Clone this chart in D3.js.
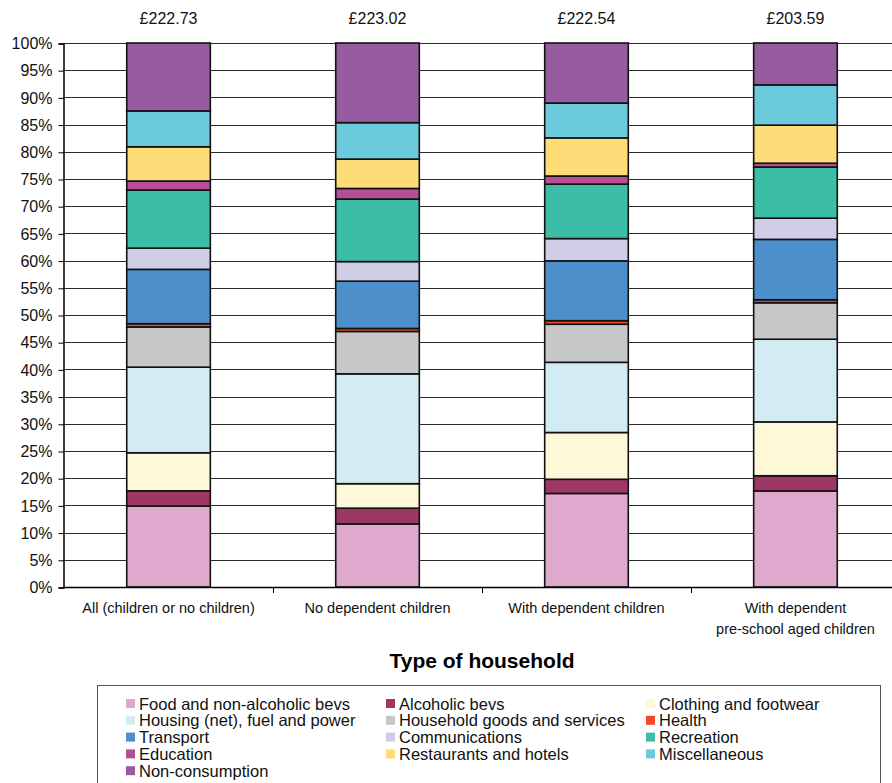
<!DOCTYPE html>
<html><head><meta charset="utf-8">
<script src="https://cdn.jsdelivr.net/npm/d3@7"></script>
<style>body{margin:0;background:#fff;}svg{display:block;font-family:"Liberation Sans",Arial,sans-serif;}</style>
</head><body><svg id="c" width="892" height="783"></svg>
<script>
const categories = ["All (children or no children)", "No dependent children", "With dependent children", "With dependent\npre-school aged children"];
const totals = ["£222.73", "£223.02", "£222.54", "£203.59"];
const seriesNames = ["Food and non-alcoholic bevs","Alcoholic bevs","Clothing and footwear","Housing (net), fuel and power","Household goods and services","Health","Transport","Communications","Recreation","Education","Restaurants and hotels","Miscellaneous","Non-consumption"];
const seriesColors = ["#dfa9cd","#9c3766","#fdf9d8","#d3ecf3","#c6c7c8","#ef4a2a","#4d8fcb","#cfcde6","#3bbda6","#b64f97","#fedd78","#6bcbdc","#975b9f"];
const food        = [14.9, 11.6, 17.2, 17.65];
const alcohol     = [2.8, 2.9, 2.6, 2.8];
const clothing    = [7.0, 4.5, 8.6, 9.9];
const housing     = [15.75, 20.2, 12.9, 15.2];
const household   = [7.4, 7.8, 7.0, 6.7];
const health      = [0.6, 0.55, 0.65, 0.55];
const transport   = [10.0, 8.7, 11.0, 11.1];
const comms       = [3.9, 3.6, 4.1, 3.9];
const recreation  = [10.7, 11.5, 10.0, 9.4];
const education   = [1.65, 1.95, 1.5, 0.7];
const restaurants = [6.3, 5.4, 7.0, 7.0];
const misc        = [6.6, 6.7, 6.4, 7.4];
const nonCons     = [12.5, 14.65, 11.05, 7.7];
const yTicks = [0,5,10,15,20,25,30,35,40,45,50,55,60,65,70,75,80,85,90,95,100];

(function(){
const seriesValues = [food, alcohol, clothing, housing, household, health, transport, comms, recreation, education, restaurants, misc, nonCons];
const rows = categories.map((c, i) => {
  const r = {cat: c};
  seriesNames.forEach((s, j) => r[s] = seriesValues[j][i]);
  return r;
});
const stack = d3.stack().keys(seriesNames).offset(d3.stackOffsetExpand)(rows);

const svg = d3.select("#c");
const mLeft = 63, mRight = 901, mTop = 43, mBottom = 587;
const x = d3.scaleBand().domain(categories).range([mLeft, mRight]).paddingInner(0.6).paddingOuter(0.305);
const y = d3.scaleLinear().domain([0, 1]).range([mBottom, mTop]);

// gridlines
svg.append("g").selectAll("line").data(yTicks).join("line")
  .attr("x1", mLeft).attr("x2", 892)
  .attr("y1", d => Math.round(y(d/100)) + 0.5).attr("y2", d => Math.round(y(d/100)) + 0.5)
  .attr("stroke", "#2a2a2a").attr("stroke-width", 1);

// y axis
const yAxis = d3.axisLeft(y).tickValues(yTicks.map(d => d/100)).tickFormat(d => Math.round(d*100) + "%").tickSize(5).tickPadding(6);
const ya = svg.append("g").attr("transform", `translate(${mLeft + 0.5},0.5)`).call(yAxis);
ya.select(".domain").attr("stroke", "#000").attr("stroke-width", 1.5);
ya.selectAll(".tick line").attr("stroke", "#000");
ya.selectAll("text").attr("font-size", 16).attr("fill", "#111").attr("font-family", "Liberation Sans, Arial, sans-serif");

// bars
svg.append("g").selectAll("g").data(stack).join("g")
  .attr("fill", (d, i) => seriesColors[i])
  .selectAll("rect").data(d => d).join("rect")
  .attr("x", d => x(d.data.cat))
  .attr("width", x.bandwidth())
  .attr("y", d => y(d[1]))
  .attr("height", d => y(d[0]) - y(d[1]))
  .attr("stroke", "#111").attr("stroke-width", 1.6);

// x axis baseline and separators
svg.append("line").attr("x1", mLeft).attr("x2", 892).attr("y1", mBottom + 0.5).attr("y2", mBottom + 0.5).attr("stroke", "#000").attr("stroke-width", 1.5);
svg.append("g").selectAll("line").data(categories.slice(1)).join("line")
  .attr("x1", d => Math.round(x(d) - x.step()*x.paddingInner()/2) + 0.5)
  .attr("x2", d => Math.round(x(d) - x.step()*x.paddingInner()/2) + 0.5)
  .attr("y1", mBottom).attr("y2", mBottom + 6).attr("stroke", "#000");

// category labels
svg.append("g").selectAll("text").data(categories).join("text")
  .attr("x", d => x(d) + x.bandwidth()/2)
  .attr("y", 613)
  .attr("text-anchor", "middle").attr("font-size", 14.5).attr("fill", "#111")
  .each(function(d) {
    const lines = d.split("\n");
    d3.select(this).selectAll("tspan").data(lines).join("tspan")
      .attr("x", x(d) + x.bandwidth()/2).attr("dy", (l, i) => i === 0 ? 0 : 21).text(l => l);
  });

// totals
svg.append("g").selectAll("text").data(categories).join("text")
  .attr("x", d => x(d) + x.bandwidth()/2).attr("y", 24)
  .attr("text-anchor", "middle").attr("font-size", 16).attr("fill", "#111")
  .text((d, i) => totals[i]);

// axis title
svg.append("text").attr("x", 482).attr("y", 668).attr("text-anchor", "middle")
  .attr("font-size", 21).attr("font-weight", "bold").attr("fill", "#000").text("Type of household");

// legend
const lg = svg.append("g");
lg.append("rect").attr("x", 97.5).attr("y", 685.5).attr("width", 783).attr("height", 110)
  .attr("fill", "#fff").attr("stroke", "#555").attr("stroke-width", 1);
const colX = [126, 386, 646];
seriesNames.forEach((s, i) => {
  const col = i % 3, row = Math.floor(i / 3);
  const cy = 704 + row * 16.8;
  lg.append("rect").attr("x", colX[col]).attr("y", cy - 5).attr("width", 9).attr("height", 9).attr("fill", seriesColors[i]);
  lg.append("text").attr("x", colX[col] + 13).attr("y", cy + 5.5).attr("font-size", 16.5).attr("fill", "#111").text(s);
});
})();
</script></body></html>
